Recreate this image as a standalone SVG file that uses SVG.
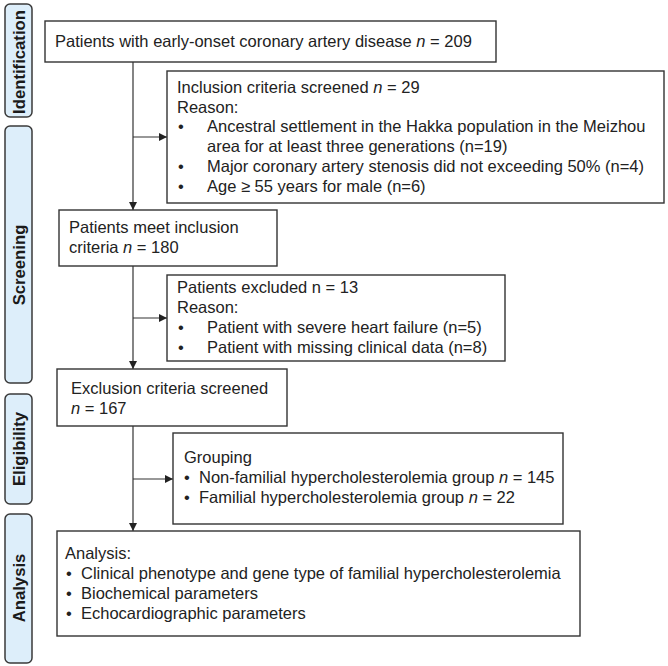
<svg xmlns="http://www.w3.org/2000/svg" width="668" height="666" viewBox="0 0 668 666">
<style>
.bg{fill:#ffffff}
.pill{fill:#ddeefa;stroke:#3a3a3a;stroke-width:1.5}
.side{font-family:"Liberation Sans",Arial,sans-serif;font-size:16.7px;font-weight:bold;fill:#1a1a1a;text-anchor:middle}
.box{fill:#ffffff;stroke:#333333;stroke-width:1.4}
.t{font-family:"Liberation Sans",Arial,sans-serif;font-size:16.5px;fill:#222222}
.ln{stroke:#333333;stroke-width:1.2;fill:none}
</style>
<defs>
<marker id="ah" markerWidth="8" markerHeight="8" refX="8" refY="4" orient="auto" markerUnits="userSpaceOnUse">
<path d="M0,0 L8,4 L0,8 Z" fill="#222222"/>
</marker>
</defs>
<rect class="bg" x="0" y="0" width="668" height="666"/>
<g id="side-identification"><rect class="pill" x="5" y="4" width="27" height="113" rx="5"/><text class="side" transform="translate(24.5,62) rotate(-90)">Identification</text></g>
<g id="side-screening"><rect class="pill" x="5" y="126" width="27" height="257" rx="5"/><text class="side" transform="translate(24.5,265) rotate(-90)">Screening</text></g>
<g id="side-eligibility"><rect class="pill" x="5" y="394" width="27" height="110" rx="5"/><text class="side" transform="translate(24.5,449) rotate(-90)">Eligibility</text></g>
<g id="side-analysis"><rect class="pill" x="5" y="514" width="27" height="149" rx="5"/><text class="side" transform="translate(24.5,588) rotate(-90)">Analysis</text></g>
<g id="connectors">
<line class="ln" x1="133" y1="62" x2="133" y2="210" marker-end="url(#ah)"/>
<line class="ln" x1="133" y1="137" x2="167" y2="137" marker-end="url(#ah)"/>
<line class="ln" x1="133" y1="266" x2="133" y2="369" marker-end="url(#ah)"/>
<line class="ln" x1="133" y1="318" x2="167" y2="318" marker-end="url(#ah)"/>
<line class="ln" x1="133" y1="426" x2="133" y2="531" marker-end="url(#ah)"/>
<line class="ln" x1="133" y1="479" x2="173" y2="479" marker-end="url(#ah)"/>
</g>
<g id="n-total"><rect class="box" x="45" y="21" width="451" height="41"/><text class="t" x="55" y="47">Patients with early-onset coronary artery disease <tspan font-style="italic">n</tspan> = 209</text></g>
<g id="n-inclusion"><rect class="box" x="167" y="71" width="497" height="132"/>
<text class="t" x="177" y="93">Inclusion criteria screened <tspan font-style="italic">n</tspan> = 29</text>
<text class="t" x="177" y="113">Reason:</text>
<text class="t" x="178" y="132">•</text><text class="t" x="207" y="132">Ancestral settlement in the Hakka population in the Meizhou</text>
<text class="t" x="207" y="152">area for at least three generations (n=19)</text>
<text class="t" x="178" y="172">•</text><text class="t" x="207" y="172">Major coronary artery stenosis did not exceeding 50% (n=4)</text>
<text class="t" x="178" y="192">•</text><text class="t" x="207" y="192">Age ≥ 55 years for male (n=6)</text>
</g>
<g id="n-meet"><rect class="box" x="59" y="210" width="218" height="56"/>
<text class="t" x="69" y="233">Patients meet inclusion</text>
<text class="t" x="69" y="253">criteria <tspan font-style="italic">n</tspan> = 180</text>
</g>
<g id="n-excluded"><rect class="box" x="167" y="275" width="338" height="86"/>
<text class="t" x="177" y="293">Patients excluded n = 13</text>
<text class="t" x="177" y="313">Reason:</text>
<text class="t" x="178" y="333">•</text><text class="t" x="207" y="333">Patient with severe heart failure (n=5)</text>
<text class="t" x="178" y="353">•</text><text class="t" x="207" y="353">Patient with missing clinical data (n=8)</text>
</g>
<g id="n-exclusion"><rect class="box" x="57" y="369" width="230" height="57"/>
<text class="t" x="71" y="394">Exclusion criteria screened</text>
<text class="t" x="71" y="414"><tspan font-style="italic">n</tspan> = 167</text>
</g>
<g id="n-grouping"><rect class="box" x="173" y="433" width="390" height="91"/>
<text class="t" x="184" y="463">Grouping</text>
<text class="t" x="184" y="483">•</text><text class="t" x="199" y="483">Non-familial hypercholesterolemia group <tspan font-style="italic">n</tspan> = 145</text>
<text class="t" x="184" y="503">•</text><text class="t" x="199" y="503">Familial hypercholesterolemia group <tspan font-style="italic">n</tspan> = 22</text>
</g>
<g id="n-analysis"><rect class="box" x="57" y="531" width="523" height="105"/>
<text class="t" x="65" y="559">Analysis:</text>
<text class="t" x="66" y="579">•</text><text class="t" x="81" y="579">Clinical phenotype and gene type of familial hypercholesterolemia</text>
<text class="t" x="66" y="599">•</text><text class="t" x="81" y="599">Biochemical parameters</text>
<text class="t" x="66" y="619">•</text><text class="t" x="81" y="619">Echocardiographic parameters</text>
</g>
</svg>
